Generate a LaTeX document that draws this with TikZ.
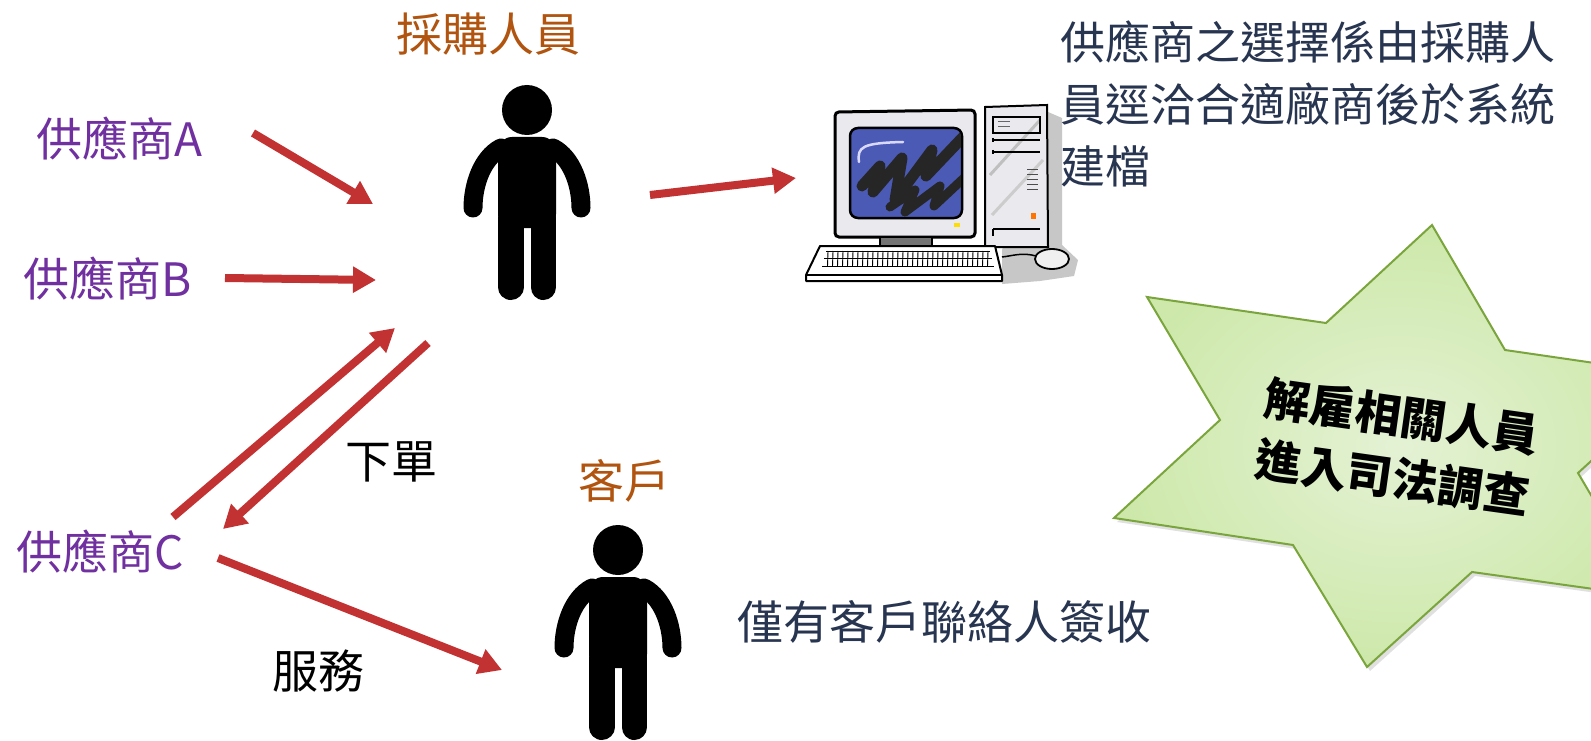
\documentclass[tikz,border=0pt]{standalone}
\usepackage{fontspec}
\setmainfont{Noto Sans CJK TC}
\usetikzlibrary{arrows.meta}

\definecolor{arrowred}{HTML}{C33232}
\definecolor{supplier}{HTML}{7030A0}
\definecolor{rolebrown}{HTML}{B0540F}
\definecolor{slate}{HTML}{283550}
\definecolor{starline}{HTML}{7AA53C}
\definecolor{starin}{HTML}{E4F2D4}
\definecolor{starout}{HTML}{CDE8AA}
\definecolor{screenblue}{HTML}{4B5AB5}
\definecolor{casegray}{HTML}{E9E9EE}

\tikzset{
  flow/.style={draw=arrowred, line width=8pt, -{Triangle[length=23pt,width=25pt]}},
  txt/.style={inner sep=0pt, font=\fontsize{46}{46}\selectfont},
  person/.pic={
    % head
    \fill (0,0) circle[radius=25pt];
    % torso with rounded shoulders
    \fill[rounded corners=14pt] (-29,118) -- (-29,27) -- (29,27) -- (29,118) -- cycle;
    % legs
    \draw[line width=25.5pt, line cap=round] (-16.25,108) -- (-16.25,177.25);
    \draw[line width=25.5pt, line cap=round] (16.25,108) -- (16.25,177.25);
    % arms
    \draw[line width=19pt, line cap=round] (-26,38) .. controls (-45,48) and (-54,75) .. (-54,98);
    \draw[line width=19pt, line cap=round] (26,38) .. controls (45,48) and (54,75) .. (54,98);
  }
}

\begin{document}
\begin{tikzpicture}[x=1pt,y=-1pt]
\useasboundingbox (0,0) rectangle (1591,741);
\clip (0,0) rectangle (1591,741);
\fill[white] (0,0) rectangle (1591,741);

% ---------- six-pointed burst ----------
\begin{scope}[shift={(3,4)}]
\fill[black, opacity=0.12]
  (1432,225) -- (1505,350) -- (1684,376) -- (1578,473) -- (1651,597) -- (1472,572)
  -- (1367,667) -- (1293,545) -- (1114,518) -- (1220,420) -- (1147,297) -- (1326,323) -- cycle;
\end{scope}
\shade[inner color=starin, outer color=starout, draw=starline, line width=2pt, line join=miter]
  (1432,225) -- (1505,350) -- (1684,376) -- (1578,473) -- (1651,597) -- (1472,572)
  -- (1367,667) -- (1293,545) -- (1114,518) -- (1220,420) -- (1147,297) -- (1326,323) -- cycle;
\node[rotate=-8, align=center, inner sep=0pt,
      font=\fontsize{46}{62}\selectfont\bfseries] (verdict) at (1397,447)
  {解雇相關人員\\進入司法調查};

% ---------- people ----------
\pic (buyer) at (527,110) {person};
\pic (client) at (618,550) {person};

% ---------- computer ----------
% shadow
\fill[black!22] (1048,112) -- (1062,118) -- (1062,245) -- (1078,260) -- (1074,276)
  -- (1040,281) -- (1002,284) -- (1002,250) -- cycle;
% tower
\draw[line width=2pt, fill=casegray] (985,107) -- (1047,105) -- (1048,247) -- (985,247) -- cycle;
\draw[black!25, line width=3pt] (990,175) -- (1040,120);
\draw[black!20, line width=3pt] (992,215) -- (1043,160);
\draw[line width=1.2pt] (993,117) rectangle (1040,133);
\draw[black!60, line width=1pt] (998,122) -- (1010,122) (998,127) -- (1010,127);
\draw[line width=1.6pt] (993,138) -- (993,142) (993,140) -- (1040,140);
\draw[line width=1.6pt] (993,150) -- (993,154) (993,152) -- (1040,152);
\foreach \v in {170,175,180,185,190} \draw[black!70, line width=1pt] (1027,\v) -- (1038,\v);
\fill[orange!90!red] (1031,213) rectangle (1036,219);
\draw[line width=1.4pt] (993,229) -- (1040,229) (993,229) -- (993,236);
% monitor
\draw[line width=3pt, fill=casegray, rounded corners=4pt] (835,112) -- (975,110) -- (975,237) -- (835,237) -- cycle;
\draw[line width=2.5pt, fill=screenblue, rounded corners=8pt] (850,128) rectangle (962,218);
\begin{scope}
  \clip[rounded corners=8pt] (851,129) rectangle (961,217);
  \draw[black!85, line width=11pt, line cap=round, line join=round]
    (862,186) -- (880,166) -- (873,192) -- (902,158) -- (895,200) -- (932,150) -- (926,176) -- (964,136);
  \draw[black!85, line width=9pt, line cap=round, line join=round]
    (890,207) -- (915,190) -- (905,212) -- (940,186) -- (934,206) -- (964,178);
\end{scope}
\draw[white!85!blue, line width=2.5pt, line cap=round] (859,162) .. controls (857,147) and (862,143) .. (903,142);
\fill[yellow!80!orange] (954,223) rectangle (960,227);
\draw[line width=1.5pt, fill=black!55] (880,237) rectangle (932,247);
% keyboard
\draw[line width=2pt, fill=white, line join=round] (820,246) -- (995,246) -- (1002,275) -- (1002,281) -- (806,281) -- (806,275) -- cycle;
\draw[line width=1.2pt] (806,275) -- (1002,275);
\draw[line width=1pt] (826,251) -- (990,251) (824,258) -- (992,258) (822,266) -- (994,266);
\foreach \k in {828,833,...,988} \draw[line width=0.9pt] (\k,251) -- (\k-0.5,266);
\draw[line width=1pt] (895,258) -- (925,258);
% mouse and cable
\draw[line width=1.5pt] (1036,256) .. controls (1022,252) and (1012,256) .. (1002,257);
\draw[line width=1.8pt, fill=black!6] (1052,259) ellipse[x radius=17pt, y radius=10pt];

% ---------- labels ----------
\node[txt, text=rolebrown] (buyerlabel) at (488,34) {採購人員};
\node[txt, text=rolebrown] (clientlabel) at (624,481) {客戶};
\node[txt, text=supplier] (sA) at (119,139) {供應商A};
\node[txt, text=supplier] (sB) at (108,279) {供應商B};
\node[txt, text=supplier] (sC) at (100,552) {供應商C};
\node[txt] (order) at (391,462) {下單};
\node[txt] (service) at (318,671) {服務};
\node[txt, text=slate] (signoff) at (944,622) {僅有客戶聯絡人簽收};
\node[inner sep=0pt, anchor=north west, align=left, text=slate,
      font=\fontsize{45}{62}\selectfont] (note) at (1060,21)
  {供應商之選擇係由採購人\\員逕洽合適廠商後於系統\\建檔};

% ---------- connector ends ----------
\coordinate (aTail) at (253,133);  \coordinate (aTip) at (373,204);
\coordinate (bTail) at (225,278);  \coordinate (bTip) at (376,280);
\coordinate (cUpTail) at (173,517); \coordinate (cUpTip) at (395,328);
\coordinate (cDnTail) at (428,343); \coordinate (cDnTip) at (223,529);
\coordinate (svTail) at (218,558); \coordinate (svTip) at (502,670);
\coordinate (pcTail) at (650,195); \coordinate (pcTip) at (796,178);

\draw[flow] (aTail) -- (aTip);
\draw[flow] (bTail) -- (bTip);
\draw[flow] (cUpTail) -- (cUpTip);
\draw[flow] (cDnTail) -- (cDnTip);
\draw[flow] (svTail) -- (svTip);
\draw[flow] (pcTail) -- (pcTip);
\end{tikzpicture}
\end{document}
